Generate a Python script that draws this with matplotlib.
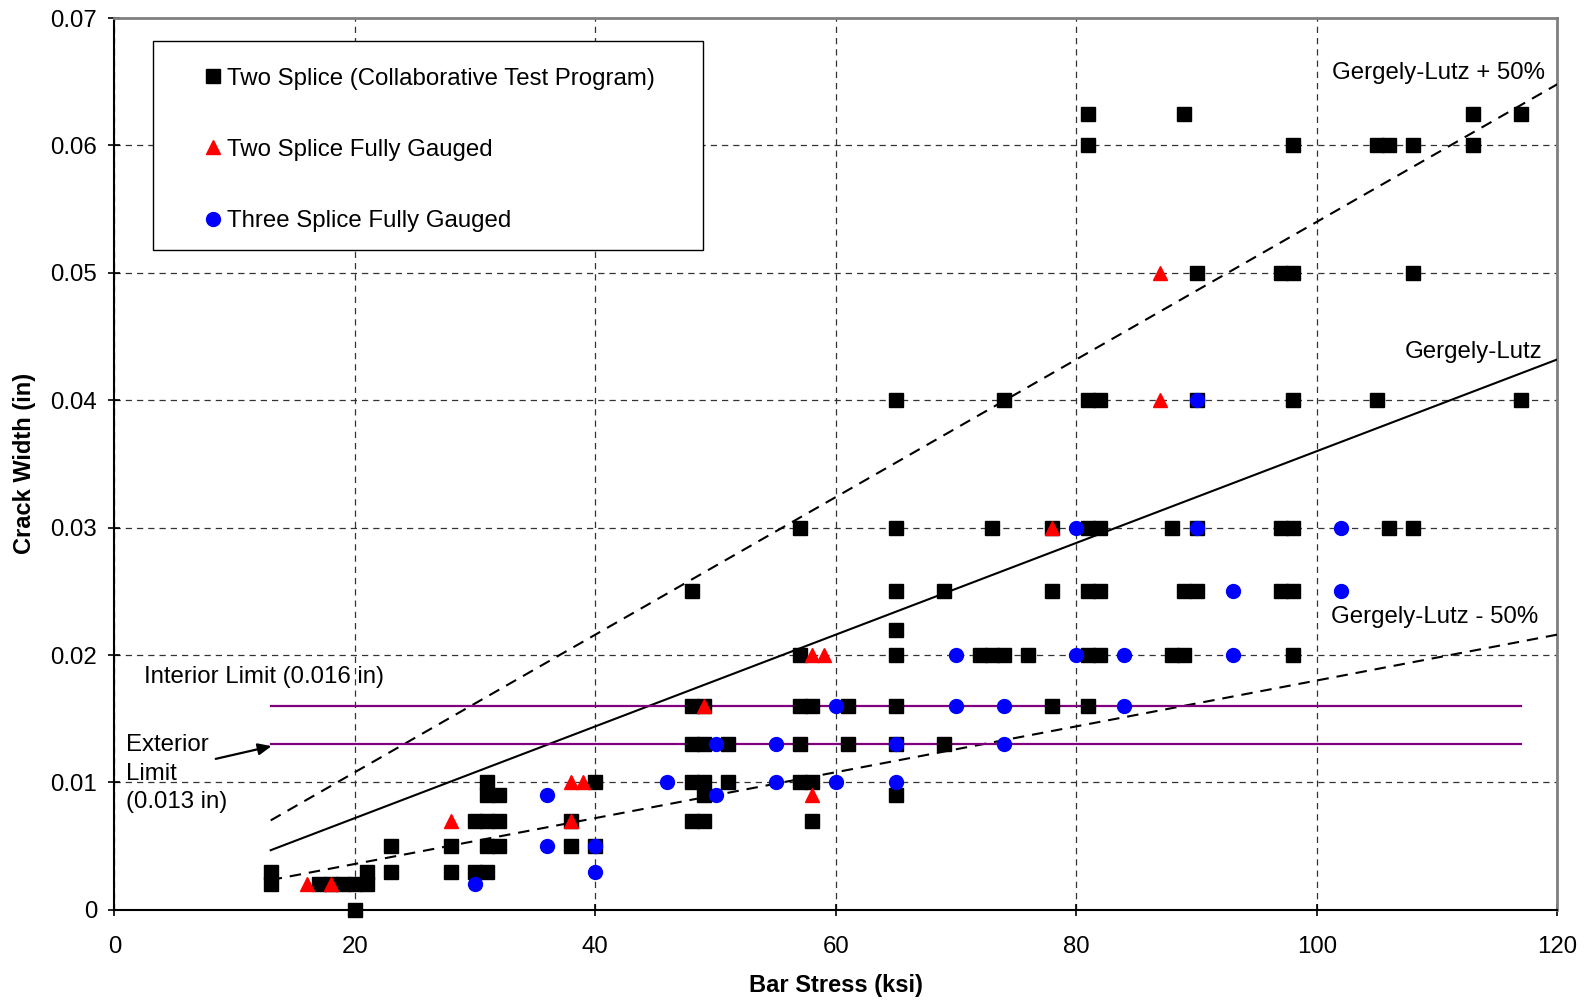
import numpy as np
import matplotlib
matplotlib.use("Agg")
import matplotlib.pyplot as plt
from matplotlib.patches import Rectangle

plt.rcParams['font.family'] = ['Liberation Sans', 'DejaVu Sans']

# Two Splice (Collaborative Test Program)
sq_x = [13, 13, 17, 18, 19, 20, 21, 21, 20, 23, 23, 28, 28,
        30, 31, 32, 31, 31, 32, 31, 32, 30, 31, 38, 38, 40, 40,
        48, 48, 49, 48, 49, 48, 49, 49, 48, 49, 51, 51,
        57, 57, 57, 58, 57, 57, 58, 58, 61, 61,
        65, 65, 65, 65, 65, 65, 65, 65, 69, 69,
        72, 73, 74, 73, 74, 76, 78, 78, 78,
        81, 81, 81, 82, 81, 82, 81, 82, 81, 82, 81,
        88, 88, 89, 89, 90, 89, 90, 90, 90,
        97, 98, 98, 97, 98, 97, 98, 98, 98,
        105, 105, 106, 106, 108, 108, 108, 113, 113, 117, 117]
sq_y = [0.002, 0.003, 0.002, 0.002, 0.002, 0.002, 0.002, 0.003, 0.000, 0.005, 0.003, 0.005, 0.003,
        0.007, 0.007, 0.007, 0.010, 0.009, 0.009, 0.005, 0.005, 0.003, 0.003, 0.007, 0.005, 0.010, 0.005,
        0.025, 0.016, 0.016, 0.013, 0.013, 0.010, 0.010, 0.009, 0.007, 0.007, 0.013, 0.010,
        0.030, 0.020, 0.016, 0.016, 0.013, 0.010, 0.010, 0.007, 0.016, 0.013,
        0.040, 0.030, 0.025, 0.022, 0.020, 0.016, 0.013, 0.009, 0.025, 0.013,
        0.020, 0.020, 0.020, 0.030, 0.040, 0.020, 0.030, 0.025, 0.016,
        0.0625, 0.060, 0.040, 0.040, 0.030, 0.030, 0.025, 0.025, 0.020, 0.020, 0.016,
        0.030, 0.020, 0.020, 0.025, 0.025, 0.0625, 0.050, 0.040, 0.030,
        0.050, 0.050, 0.060, 0.030, 0.030, 0.025, 0.025, 0.040, 0.020,
        0.040, 0.060, 0.060, 0.030, 0.060, 0.050, 0.030, 0.0625, 0.060, 0.0625, 0.040]

# Two Splice Fully Gauged
tri_x = [16, 18, 28, 38, 39, 38, 49, 58, 59, 58, 78, 87, 87]
tri_y = [0.002, 0.002, 0.007, 0.010, 0.010, 0.007, 0.016, 0.020, 0.020, 0.009, 0.030, 0.050, 0.040]

# Three Splice Fully Gauged
circ_x = [30, 36, 36, 40, 40, 46, 50, 50, 55, 55, 60, 60, 65, 65,
          70, 70, 74, 74, 80, 80, 84, 84, 90, 90, 93, 93, 102, 102]
circ_y = [0.002, 0.009, 0.005, 0.005, 0.003, 0.010, 0.013, 0.009, 0.013, 0.010, 0.016, 0.010, 0.013, 0.010,
          0.020, 0.016, 0.016, 0.013, 0.030, 0.020, 0.020, 0.016, 0.040, 0.030, 0.025, 0.020, 0.030, 0.025]

# Gergely-Lutz prediction (crack width per ksi) and +/- 50% bounds
gl_coef = 0.00036
gl_factors = [1.5, 1.0, 0.5]
gl_styles = [(0, (5.5, 3.8)), '-', (0, (5.5, 3.8))]
gl_labels = ['Gergely-Lutz + 50%', 'Gergely-Lutz', 'Gergely-Lutz - 50%']
gl_label_y = [0.0657, 0.0438, 0.0230]
gl_label_x = [119.0, 118.8, 118.4]
fs_range = [13, 120]

limit_vals = [0.016, 0.013]
limit_range = [13, 117]

FS = 17.3

fig = plt.figure(figsize=(15.89, 10.02), dpi=100)
ax = fig.add_axes([0.072, 0.092, 0.908, 0.890])

fs = np.array(fs_range)
for f, ls in zip(gl_factors, gl_styles):
    ax.plot(fs, f * gl_coef * fs, color='black', lw=1.5, linestyle=ls, zorder=3)
for lbl, lx, ly in zip(gl_labels, gl_label_x, gl_label_y):
    ax.text(lx, ly, lbl, ha='right', va='center', fontsize=FS)

for v in limit_vals:
    ax.plot(limit_range, [v, v], color='#800080', lw=1.6, zorder=3)

ax.text(2.5, 0.0183, 'Interior Limit (0.016 in)', ha='left', va='center', fontsize=FS)
ax.text(1.0, 0.0107, 'Exterior\nLimit\n(0.013 in)', ha='left', va='center',
        fontsize=FS, linespacing=1.4)
ax.annotate('', xy=(13.3, 0.0129), xytext=(8.2, 0.0118),
            arrowprops=dict(arrowstyle='-|>,head_length=0.8,head_width=0.35',
                            color='black', lw=1.6))

ax.plot(sq_x, sq_y, 's', color='black', ms=9.5, clip_on=False, zorder=4,
        label='Two Splice (Collaborative Test Program)')
ax.plot(tri_x, tri_y, '^', color='red', ms=10, clip_on=False, zorder=5,
        label='Two Splice Fully Gauged')
ax.plot(circ_x, circ_y, 'o', color='blue', ms=10, clip_on=False, zorder=6,
        label='Three Splice Fully Gauged')

ax.set_xlim(0, 120)
ax.set_ylim(0, 0.07)
ax.set_xticks(np.arange(0, 121, 20))
ax.set_yticks(np.arange(0, 0.071, 0.01))
ax.set_yticklabels(['0'] + ['%.2f' % v for v in np.arange(0.01, 0.071, 0.01)])
ax.tick_params(direction='inout', length=9, width=1.2, labelsize=FS)
ax.tick_params(axis='x', pad=14)
ax.tick_params(axis='y', pad=8)
ax.grid(True, color='0.2', lw=0.9, linestyle=(0, (5, 4)))
ax.set_axisbelow(True)

for s in ['left', 'bottom']:
    ax.spines[s].set_linewidth(1.5)
for s in ['top', 'right']:
    ax.spines[s].set_color('#808080')
    ax.spines[s].set_linewidth(2)

ax.set_xlabel('Bar Stress (ksi)', fontsize=17, fontweight='bold', labelpad=12)
ax.set_ylabel('Crack Width (in)', fontsize=17, fontweight='bold', labelpad=10)

# legend box drawn separately so the padding can differ per side
ax.add_patch(Rectangle((0.0268, 0.740), 0.3812, 0.234, transform=ax.transAxes,
                       facecolor='white', edgecolor='black', lw=1.0,
                       zorder=7, clip_on=False))
leg = ax.legend(loc='upper left', bbox_to_anchor=(0.0599, 0.9445), fontsize=FS,
                frameon=False, borderpad=0, labelspacing=2.05, handlelength=1.0,
                handletextpad=0.1, borderaxespad=0)
leg.set_zorder(8)

fig.savefig('out.png', dpi=100)
